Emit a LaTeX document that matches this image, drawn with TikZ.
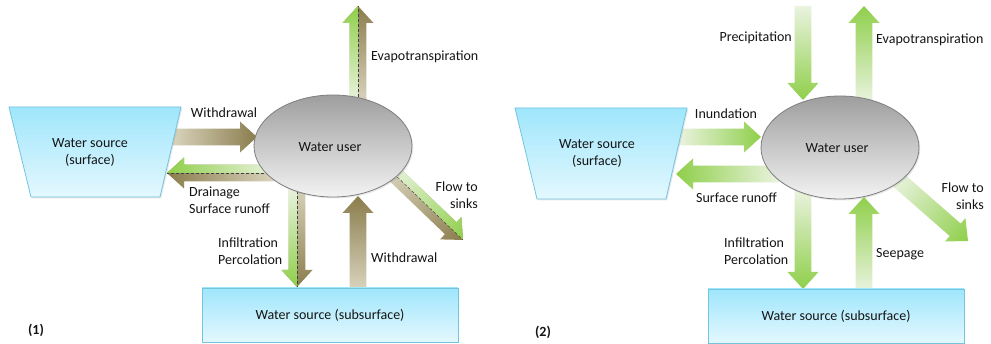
\documentclass[tikz,border=0pt]{standalone}
\usepackage{fontspec}
\setmainfont{Carlito}
\usetikzlibrary{shapes.geometric,shadows}
\definecolor{brD}{HTML}{8A7C4C}
\definecolor{brL}{HTML}{D9D4BD}
\definecolor{grD}{HTML}{8FCF4A}
\definecolor{grL}{HTML}{EAF3DF}
\definecolor{cyT}{HTML}{9FE6FC}
\definecolor{cyB}{HTML}{E4F8FE}
\definecolor{cyE}{HTML}{74C4DE}
\definecolor{elT}{HTML}{9E9E9E}
\definecolor{elB}{HTML}{F3F3F3}
\definecolor{elE}{HTML}{7F7F7F}
\definecolor{txt}{HTML}{141414}
\newdimen\bxa \newdimen\bya \newdimen\bxb \newdimen\byb
\newcommand\arrowsetup[2]{%
  \pgfextractx{\bxa}{\pgfpointanchor{#1}{center}}%
  \pgfextracty{\bya}{\pgfpointanchor{#1}{center}}%
  \pgfextractx{\bxb}{\pgfpointanchor{#2}{center}}%
  \pgfextracty{\byb}{\pgfpointanchor{#2}{center}}%
  \pgfmathsetmacro\bL{veclen(\bxb-\bxa,\byb-\bya)}%
  \pgfmathsetmacro\bA{atan2(\byb-\bya,\bxb-\bxa)}%
  \pgfmathsetmacro\bH{\bL-17}}
\newcommand\plainarrow[3]{%
  \arrowsetup{#1}{#2}%
  \begin{scope}[transform canvas={shift={(\the\bxa,\the\bya)},rotate=\bA}]
    \shade[#3] (0,-8.3) -- (\bH,-8.3) -- (\bH,-15.5) -- (\bL,0) -- (\bH,15.5) -- (\bH,8.3) -- (0,8.3) -- cycle;
  \end{scope}}
\newcommand\splitarrow[3]{%
  \arrowsetup{#1}{#2}%
  \begin{scope}[transform canvas={shift={(\the\bxa,\the\bya)},rotate=\bA}]
    \shade[brsh] (0,-8.3) -- (\bH,-8.3) -- (\bH,-15.5) -- (\bL,0) -- (\bH,15.5) -- (\bH,8.3) -- (0,8.3) -- cycle;
    \shade[grsh] (0,0) -- (0,#3*8.3) -- (\bH,#3*8.3) -- (\bH,#3*15.5) -- (\bL,0) -- cycle;
    \draw[midline] (0,0) -- (\bL,0);
  \end{scope}}
\tikzset{
  brsh/.style={left color=brL, right color=brD},
  grsh/.style={left color=grL, right color=grD},
  midline/.style={draw=black!75, densely dashed, line width=0.45pt},
  lbl/.style={font=\fontsize{14}{17}\selectfont, text=txt, inner sep=0pt},
  srcshape/.style={top color=cyT, bottom color=cyB, draw=cyE, line width=0.8pt,
    drop shadow={opacity=0.18, shadow xshift=1.2pt, shadow yshift=-1.5pt}},
  usershape/.style={ellipse, minimum width=158pt, minimum height=102pt, inner sep=0pt,
    top color=elT, bottom color=elB, draw=elE, line width=0.8pt,
    drop shadow={opacity=0.18, shadow xshift=1.2pt, shadow yshift=-1.5pt}},
}
\begin{document}
\begin{tikzpicture}[x=1pt,y=-1pt]
\useasboundingbox[fill=white] (0,0) rectangle (991,344);

% ---------- panel 1 coordinates ----------
\coordinate (w1s) at (172,137);  \coordinate (w1e) at (257,137);
\coordinate (d1s) at (274,173);  \coordinate (d1e) at (167,173);
\coordinate (e1s) at (358,102);  \coordinate (e1e) at (358,6);
\coordinate (i1s) at (297,186);  \coordinate (i1e) at (297,287);
\coordinate (u1s) at (358,290);  \coordinate (u1e) at (358,196);
\coordinate (f1s) at (390,170);  \coordinate (f1e) at (463,240);

\plainarrow{w1s}{w1e}{brsh}
\splitarrow{d1s}{d1e}{1}
\splitarrow{e1s}{e1e}{-1}
\splitarrow{i1s}{i1e}{1}
\plainarrow{u1s}{u1e}{brsh}
\splitarrow{f1s}{f1e}{-1}

\path[srcshape] (9,107) -- (181,107) -- (160,197) -- (31,197) -- cycle;
\node[lbl, align=center] (t1) at (90,152) {Water source\\(surface)};
\node[usershape] (u1) at (333,146) {};
\node[lbl] (u1t) at (330,147) {Water user};
\node[srcshape, minimum width=256pt, minimum height=54pt, inner sep=0pt] (s1) at (330,315) {};
\node[lbl] (s1t) at (330,315) {Water source (subsurface)};

\node[lbl] (l1a) at (224,113) {Withdrawal};
\node[lbl, anchor=west] (l1b) at (371,57) {Evapotranspiration};
\node[lbl, anchor=west, align=left] (l1c) at (189,200.5) {Drainage\\Surface runoff};
\node[lbl, anchor=west, align=left] (l1d) at (218,251.5) {Infiltration\\Percolation};
\node[lbl, anchor=west] (l1e) at (371,258) {Withdrawal};
\node[lbl, anchor=east, align=right] (l1f) at (478,195.5) {Flow to\\sinks};
\node[lbl, font=\fontsize{14}{17}\selectfont\bfseries] (n1) at (36,330) {(1)};

% ---------- panel 2 coordinates ----------
\coordinate (p2s) at (803,6);    \coordinate (p2e) at (803,100);
\coordinate (e2s) at (864,102);  \coordinate (e2e) at (864,6);
\coordinate (n2s) at (679,137);  \coordinate (n2e) at (761,137);
\coordinate (r2s) at (779,174);  \coordinate (r2e) at (676,174);
\coordinate (i2s) at (803,190);  \coordinate (i2e) at (803,289);
\coordinate (q2s) at (864,291);  \coordinate (q2e) at (864,197);
\coordinate (f2s) at (896,178);  \coordinate (f2e) at (968,241);

\plainarrow{p2s}{p2e}{grsh}
\plainarrow{e2s}{e2e}{grsh}
\plainarrow{n2s}{n2e}{grsh}
\plainarrow{r2s}{r2e}{grsh}
\plainarrow{i2s}{i2e}{grsh}
\plainarrow{q2s}{q2e}{grsh}
\plainarrow{f2s}{f2e}{grsh}

\path[srcshape] (515,108) -- (687,108) -- (666,199) -- (537,199) -- cycle;
\node[lbl, align=center] (t2) at (597,153) {Water source\\(surface)};
\node[usershape, minimum height=103pt] (u2) at (840,147.5) {};
\node[lbl] (u2t) at (837,148) {Water user};
\node[srcshape, minimum width=256pt, minimum height=54pt, inner sep=0pt] (s2) at (836,316) {};
\node[lbl] (s2t) at (836,316) {Water source (subsurface)};

\node[lbl, anchor=east] (l2a) at (792,38) {Precipitation};
\node[lbl, anchor=west] (l2b) at (876,40) {Evapotranspiration};
\node[lbl] (l2c) at (726,114) {Inundation};
\node[lbl, anchor=west] (l2d) at (696,198) {Surface runoff};
\node[lbl, anchor=west, align=left] (l2e) at (724,251) {Infiltration\\Percolation};
\node[lbl, anchor=west] (l2f) at (876,254) {Seepage};
\node[lbl, anchor=east, align=right] (l2g) at (984,196.5) {Flow to\\sinks};
\node[lbl, font=\fontsize{14}{17}\selectfont\bfseries] (n2) at (543,332) {(2)};
\end{tikzpicture}
\end{document}
